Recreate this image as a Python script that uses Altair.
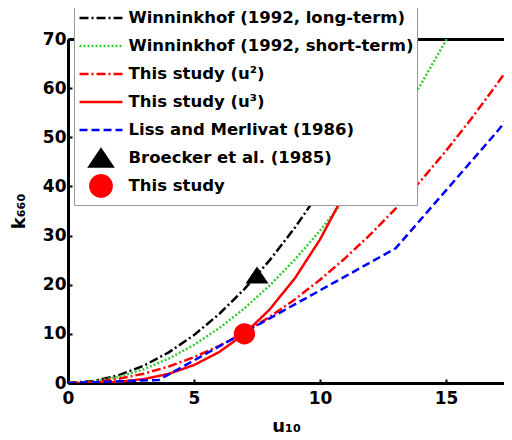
import altair as alt
import pandas as pd

# ---- data ----
names = [
    "Winninkhof (1992, long-term)",
    "Winninkhof (1992, short-term)",
    "This study (u²)",
    "This study (u³)",
    "Liss and Merlivat (1986)",
    "Broecker et al. (1985)",
    "This study",
]
colors = ["#000000", "#33cc33", "#ff0000", "#ff0000", "#0000ff", "#000000", "#ff0000"]

u_long = [0, 1, 2, 3, 4, 5, 6, 7, 8, 9, 10, 11, 12, 13, 13.4]
k_long = [0, 0.39, 1.56, 3.51, 6.24, 9.75, 14.04, 19.11, 24.96, 31.59, 39.0, 47.19, 56.16, 65.91, 70.0]

u_short = [0, 1, 2, 3, 4, 5, 6, 7, 8, 9, 10, 11, 12, 13, 14, 15.03]
k_short = [0, 0.31, 1.24, 2.79, 4.96, 7.75, 11.16, 15.19, 19.84, 25.11, 31.0, 37.51, 44.64, 52.39, 60.76, 70.0]

u_sq = [0, 1, 2, 3, 4, 5, 6, 7, 8, 9, 10, 11, 12, 13, 14, 15, 16, 17, 17.6]
k_sq = [0, 0.21, 0.84, 1.89, 3.36, 5.25, 7.56, 10.29, 13.44, 17.01, 21.0, 25.41, 30.24, 35.49, 41.16, 47.25, 53.76, 60.69, 65.05]

u_cu = [0, 1, 2, 3, 4, 5, 6, 7, 8, 9, 10, 11, 12, 13, 13.4]
k_cu = [0, 0.03, 0.23, 0.79, 1.87, 3.65, 6.31, 10.0, 14.95, 21.29, 29.2, 38.87, 50.46, 64.15, 70.0]

u_lm = [0, 1, 2, 3, 3.6, 4, 5, 6, 7, 8, 9, 10, 11, 12, 13, 14, 15, 16, 17, 17.6]
k_lm = [0, 0.17, 0.34, 0.51, 0.61, 1.75, 4.6, 7.45, 10.3, 13.15, 16.0, 18.85, 21.7, 24.55, 27.4, 33.3, 39.2, 45.1, 51.0, 54.8]

pt_u = [7.5, 7.0]
pt_k = [22.0, 10.0]
pt_names = [names[5], names[6]]

x_ticks = [0, 5, 10, 15]
y_ticks = [0, 10, 20, 30, 40, 50, 60, 70]

# ---- tables ----
rows = []
for name, us, ks in [(names[0], u_long, k_long), (names[1], u_short, k_short),
                     (names[2], u_sq, k_sq), (names[3], u_cu, k_cu), (names[4], u_lm, k_lm)]:
    for i, (u, k) in enumerate(zip(us, ks)):
        rows.append({"series": name, "u": u, "k": k, "order": i})
line_df = pd.DataFrame(rows)
pt_df = pd.DataFrame({"series": pt_names, "u": pt_u, "k": pt_k})

# ---- styles ----
SYM = 452
dashes = [[9, 3, 2, 3], [2, 2], [9, 3, 2, 3], [1, 0], [8, 4], [1, 0], [1, 0]]
line_path = "M-2.02,0H2.02"
tri_path = "M0,-0.8L1.08,0.8L-1.08,0.8Z"
shapes = [line_path] * 5 + [tri_path, "circle"]

FONT = "DejaVu Sans"
legend = alt.Legend(
    title=None, orient="none", legendX=6, legendY=-36,
    fillColor="white", strokeColor="#999999", padding=3,
    labelFont=FONT, labelFontSize=16.5, labelFontWeight="bold", labelColor="black",
    symbolStrokeWidth=2.5, symbolSize=SYM, symbolOffset=12, labelOffset=15.5,
    rowPadding={"expr": "-4.5"}, labelLimit=400, gridAlign="all",
)

xscale = alt.Scale(domain=[0, 17.3], nice=False, zero=False)
yscale = alt.Scale(domain=[0, 70], nice=False)

common_axis = dict(
    labelFont=FONT, labelFontSize=17, labelFontWeight="bold", labelColor="black",
    titleFont=FONT, titleFontWeight="bold", titleColor="black",
    domainColor="black", domainWidth=3, tickColor="black", tickWidth=2,
    tickSize={"expr": "-4"}, grid=False,
)
xaxis = alt.Axis(values=x_ticks, title="u₁₀", titleFontSize=18, labelPadding=11,
                 titlePadding=11, labelFlush=False, **common_axis)
yaxis = alt.Axis(values=y_ticks, title="k₆₆₀", titleFontSize=18, labelPadding=6,
                 titlePadding=14, **common_axis)
top_axis = alt.Axis(orient="top", labels=False, ticks=False, title=None,
                    domainColor="black", domainWidth=3, grid=False)

lines = alt.Chart(line_df).mark_line(strokeWidth=2.5, clip=True).encode(
    x=alt.X("u:Q", scale=xscale, axis=xaxis),
    y=alt.Y("k:Q", scale=yscale, axis=yaxis),
    stroke=alt.Stroke("series:N", scale=alt.Scale(domain=names, range=colors), legend=legend),
    strokeDash=alt.StrokeDash("series:N", scale=alt.Scale(domain=names, range=dashes), legend=legend),
    order="order:Q",
)

points = alt.Chart(pt_df).mark_point(filled=True, opacity=1, size=SYM, clip=True).encode(
    x=alt.X("u:Q", scale=xscale, axis=top_axis),
    y=alt.Y("k:Q", scale=yscale, axis=yaxis),
    fill=alt.Fill("series:N", scale=alt.Scale(domain=names, range=colors), legend=legend),
    shape=alt.Shape("series:N", scale=alt.Scale(domain=names, range=shapes), legend=legend),
)

chart = alt.layer(lines, points).resolve_axis(x="independent").properties(
    width=436, height=344,
    padding={"left": 60, "top": 31, "right": 0, "bottom": 52},
    autosize=alt.AutoSizeParams(type="none"),
).configure_view(stroke=None)

chart.save("out.html", embed_options={"renderer": "svg", "actions": False})
